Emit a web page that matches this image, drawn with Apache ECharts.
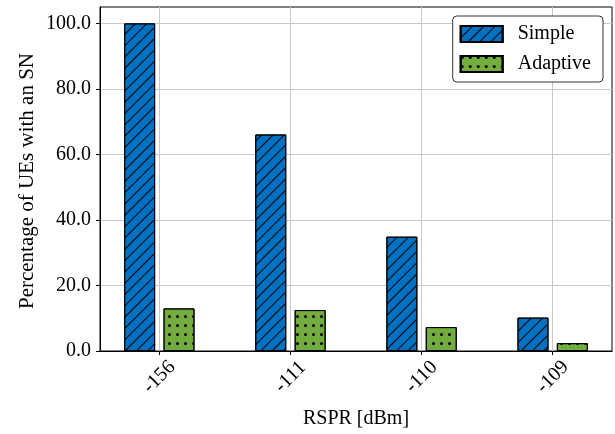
<!DOCTYPE html>
<html>
<head>
<meta charset="utf-8">
<script src="https://cdn.jsdelivr.net/npm/echarts@6/dist/echarts.min.js"></script>
<style>
  html, body { margin: 0; padding: 0; background: #fff; }
  #chart { width: 615px; height: 434px; }
</style>
</head>
<body>
<div id="chart"></div>
<script>
const categories = ['-156', '-111', '-110', '-109'];
const simpleValues = [100.0, 66.1, 34.9, 10.2];
const adaptiveValues = [13.0, 12.5, 7.3, 2.4];
const yTicks = [0, 20, 40, 60, 80, 100];

const serif = 'Liberation Serif';

function toPoints(values) {
    return values.map((v, i) => [i, v]);
}

const chart = echarts.init(document.getElementById('chart'));
chart.setOption({
    animation: false,
    backgroundColor: '#fff',
    grid: {
        left: 100, right: 3, top: 7, bottom: 79,
        show: true, borderColor: '#000', borderWidth: 1
    },
    legend: {
        right: 12, top: 16,
        orient: 'vertical',
        icon: 'rect',
        itemWidth: 42, itemHeight: 16, itemGap: 10,
        padding: [8, 12, 8, 7],
        borderColor: '#333', borderWidth: 1, borderRadius: 4,
        backgroundColor: '#fff',
        textStyle: { fontFamily: serif, fontSize: 20, color: '#000', padding: [0, 0, 0, 10] },
        data: ['Simple', 'Adaptive']
    },
    xAxis: {
        type: 'value',
        min: -0.4525, max: 3.4525,
        name: 'RSPR [dBm]',
        nameLocation: 'middle',
        nameGap: 58,
        nameTextStyle: { fontFamily: serif, fontSize: 20, color: '#000' },
        axisLine: { show: true, onZero: false, lineStyle: { color: '#000' } },
        axisTick: { show: true, length: 4, lineStyle: { color: '#000' }, customValues: [0, 1, 2, 3] },
        axisLabel: {
            customValues: [0, 1, 2, 3],
            rotate: 45,
            margin: 26,
            align: 'center',
            verticalAlign: 'middle',
            fontFamily: serif, fontSize: 20, color: '#000',
            formatter: v => categories[Math.round(v)]
        },
        splitLine: { show: true, lineStyle: { color: '#c8c8c8', width: 1 } }
    },
    yAxis: {
        type: 'value',
        min: 0, max: 105,
        axisLine: { show: true, onZero: false, lineStyle: { color: '#000' } },
        axisTick: { show: true, length: 4, lineStyle: { color: '#000' }, customValues: yTicks },
        axisLabel: {
            customValues: yTicks,
            margin: 9,
            fontFamily: serif, fontSize: 20, color: '#000',
            formatter: v => v.toFixed(1)
        },
        splitLine: { show: true, lineStyle: { color: '#c8c8c8', width: 1 } }
    },
    graphic: [{
        type: 'text',
        x: 27, y: 181,
        rotation: Math.PI / 2,
        style: {
            text: 'Percentage of UEs with an SN',
            fontFamily: serif,
            fontSize: 21,
            fill: '#000',
            align: 'center',
            verticalAlign: 'middle'
        }
    }],
    series: [
        {
            name: 'Simple',
            type: 'bar',
            data: toPoints(simpleValues),
            barWidth: 31,
            barGap: '27%',
            itemStyle: {
                color: '#0070c0',
                borderColor: '#000',
                borderWidth: 1,
                decal: {
                    symbol: 'rect',
                    symbolSize: 1,
                    color: '#000',
                    dashArrayX: [1, 0],
                    dashArrayY: [1, 7],
                    rotation: -Math.PI / 4
                }
            }
        },
        {
            name: 'Adaptive',
            type: 'bar',
            data: toPoints(adaptiveValues),
            barWidth: 31,
            itemStyle: {
                color: '#72ac3f',
                borderColor: '#000',
                borderWidth: 1,
                decal: {
                    symbol: 'circle',
                    symbolSize: 1,
                    color: '#000',
                    dashArrayX: [3, 5],
                    dashArrayY: [3, 6]
                }
            }
        }
    ]
});
</script>
</body>
</html>
